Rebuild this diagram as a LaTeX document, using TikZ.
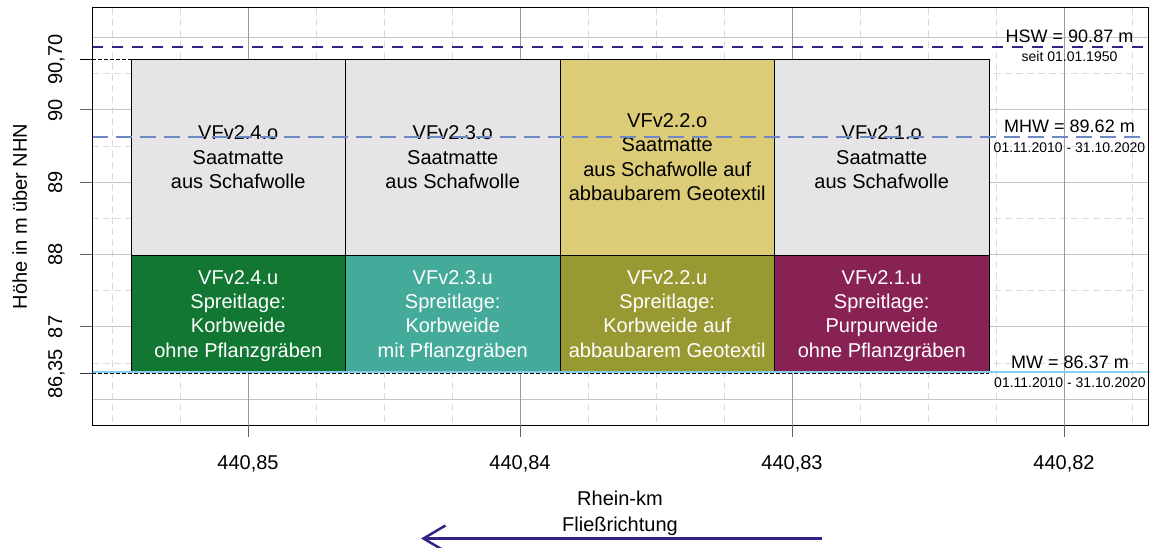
\documentclass[tikz,border=0pt]{standalone}
\usepackage{fontspec}
\setmainfont{Liberation Sans}
\usetikzlibrary{arrows.meta}
\definecolor{tolgreen}{HTML}{117733}
\definecolor{tolteal}{HTML}{44AA99}
\definecolor{tololive}{HTML}{999933}
\definecolor{tolwine}{HTML}{882255}
\definecolor{tolsand}{HTML}{DDCC77}
\definecolor{tolindigo}{HTML}{332288}
\definecolor{tolcyan}{HTML}{88CCEE}
\definecolor{mhwblue}{HTML}{6F87C6}
\definecolor{boxgrey}{HTML}{E5E5E5}
\definecolor{gridmajv}{HTML}{9A9A9A}
\definecolor{gridmajh}{HTML}{C4C4C4}
\definecolor{gridmin}{HTML}{DADADA}
\definecolor{tickgrey}{HTML}{666666}
\begin{document}
\begin{tikzpicture}[x=1pt,y=-1pt,
  every node/.style={inner sep=0pt, outer sep=0pt},
  gmin/.style={draw=gridmin, line width=1pt, dash pattern=on 7pt off 4pt},
  gmajh/.style={draw=gridmajh, line width=1pt},
  gmajv/.style={draw=gridmajv, line width=1pt},
  boxbase/.style={draw=black, line width=0.8pt, minimum width=214.5pt, align=center,
    font=\fontsize{20}{24.4}\selectfont},
  topbox/.style={boxbase, minimum height=195.6pt},
  lowbox/.style={boxbase, minimum height=117.5pt, text=white, text depth=0pt},
  ticklab/.style={font=\fontsize{20}{24}\selectfont, anchor=base},
  ytick/.style={draw=tickgrey, line width=1pt},
  refdash/.style={draw=black, line width=0.7pt, dash pattern=on 4pt off 2pt},
  hswline/.style={draw=tolindigo, line width=2pt, dash pattern=on 11pt off 9pt},
  mhwline/.style={draw=mhwblue, line width=2pt, dash pattern=on 16pt off 8pt},
  mwline/.style={draw=tolcyan, line width=2pt},
  biglab/.style={font=\fontsize{18}{20}\selectfont, anchor=base},
  smalllab/.style={font=\fontsize{14}{16}\selectfont, anchor=base},
  flow/.style={draw=tolindigo, line width=3.5pt, -{Straight Barb[length=22pt, width=26pt, line width=2.5pt]}}
]
\useasboundingbox (0,0) rectangle (1152,548);
% grid
\foreach \x in {112,180,316,384,452,588,656,724,860,928,996,1132}
  \draw[gmin] (\x,8) -- (\x,425);
\foreach \y in {73.85,146.15,218.45,290.75,363.05}
  \draw[gmin] (92,\y) -- (1148,\y);
\foreach \y in {37.7,110,182.3,254.6,326.9,399.2}
  \draw[gmajh] (92,\y) -- (1148,\y);
\foreach \x in {248,520,792,1064}
  \draw[gmajv] (\x,8) -- (\x,425);

% boxes
\node[topbox, fill=boxgrey] (o4) at (238.25,157.2) {VFv2.4.o\\Saatmatte\\aus Schafwolle};
\node[topbox, fill=boxgrey] (o3) at (452.75,157.2) {VFv2.3.o\\Saatmatte\\aus Schafwolle};
\node[topbox, fill=tolsand] (o2) at (667.25,157.2) {VFv2.2.o\\Saatmatte\\aus Schafwolle auf\\abbaubarem Geotextil};
\node[topbox, fill=boxgrey] (o1) at (881.75,157.2) {VFv2.1.o\\Saatmatte\\aus Schafwolle};
\node[lowbox, fill=tolgreen] (u4) at (238.25,313.75) {VFv2.4.u\\Spreitlage:\\Korbweide\\ohne Pflanzgräben};
\node[lowbox, fill=tolteal] (u3) at (452.75,313.75) {VFv2.3.u\\Spreitlage:\\Korbweide\\mit Pflanzgräben};
\node[lowbox, fill=tololive] (u2) at (667.25,313.75) {VFv2.2.u\\Spreitlage:\\Korbweide auf\\abbaubarem Geotextil};
\node[lowbox, fill=tolwine] (u1) at (881.75,313.75) {VFv2.1.u\\Spreitlage:\\Purpurweide\\ohne Pflanzgräben};

% reference dashed lines
\coordinate (topL) at (92,59.4);
\coordinate (botL) at (92,373.8);
\coordinate (botR) at (989,373.8);
\draw[refdash] (topL) -- (o4.north west);
\draw[refdash] (botL) -- (botR);

% water levels
\coordinate (hswA) at (92,47.1);   \coordinate (hswB) at (1151,47.1);
\coordinate (mhwA) at (92,137.5);  \coordinate (mhwB) at (1149,137.5);
\coordinate (mwA) at (92,372.4);   \coordinate (mwB) at (1150,372.4);
\draw[hswline] (hswA) -- (hswB);
\draw[mhwline] (mhwA) -- (mhwB);
\draw[mwline] (mwA) -- (mwB);

\node[biglab] (hsw) at (1069.5,43) {HSW = 90.87 m};
\node[smalllab] (hswd) at (1069.5,62) {seit 01.01.1950};
\node[biglab] (mhw) at (1069.5,133) {MHW = 89.62 m};
\node[smalllab] (mhwd) at (1069.5,153) {01.11.2010 - 31.10.2020};
\node[biglab] (mw) at (1070,368) {MW = 86.37 m};
\node[smalllab] (mwd) at (1070,387) {01.11.2010 - 31.10.2020};

% frame
\draw[black, line width=1pt] (92,8) rectangle (1148,425);

% y ticks
\draw[black, line width=1pt] (80,59.4) -- (92,59.4);
\foreach \y in {110,182.3,254.6,326.9}
  \draw[ytick] (80,\y) -- (92,\y);
\draw[tickgrey!60!black, line width=1pt] (80,373.9) -- (92,373.9);
\node[ticklab, rotate=90] (y9070) at (62,59.4) {90,70};
\node[ticklab, rotate=90] (y90) at (62,110) {90};
\node[ticklab, rotate=90] (y89) at (62,182.3) {89};
\node[ticklab, rotate=90] (y88) at (62,254.6) {88};
\node[ticklab, rotate=90] (y87) at (62,326.9) {87};
\node[ticklab, rotate=90] (y8635) at (62,373.9) {86,35};
\node[ticklab, rotate=90] (ytitle) at (27,216.5) {Höhe in m über NHN};

% x ticks
\foreach \x in {248,520,792,1064}
  \draw[ytick] (\x,425) -- (\x,437);
\node[ticklab] (x85) at (248,469) {440,85};
\node[ticklab] (x84) at (520,469) {440,84};
\node[ticklab] (x83) at (792,469) {440,83};
\node[ticklab] (x82) at (1064,469) {440,82};
\node[ticklab] (xt1) at (620,505) {Rhein-km};
\node[ticklab] (xt2) at (620,531) {Fließrichtung};

% flow arrow
\coordinate (arrS) at (822,538.5);
\coordinate (arrE) at (421,538.5);
\draw[flow] (arrS) -- (arrE);
\end{tikzpicture}
\end{document}
